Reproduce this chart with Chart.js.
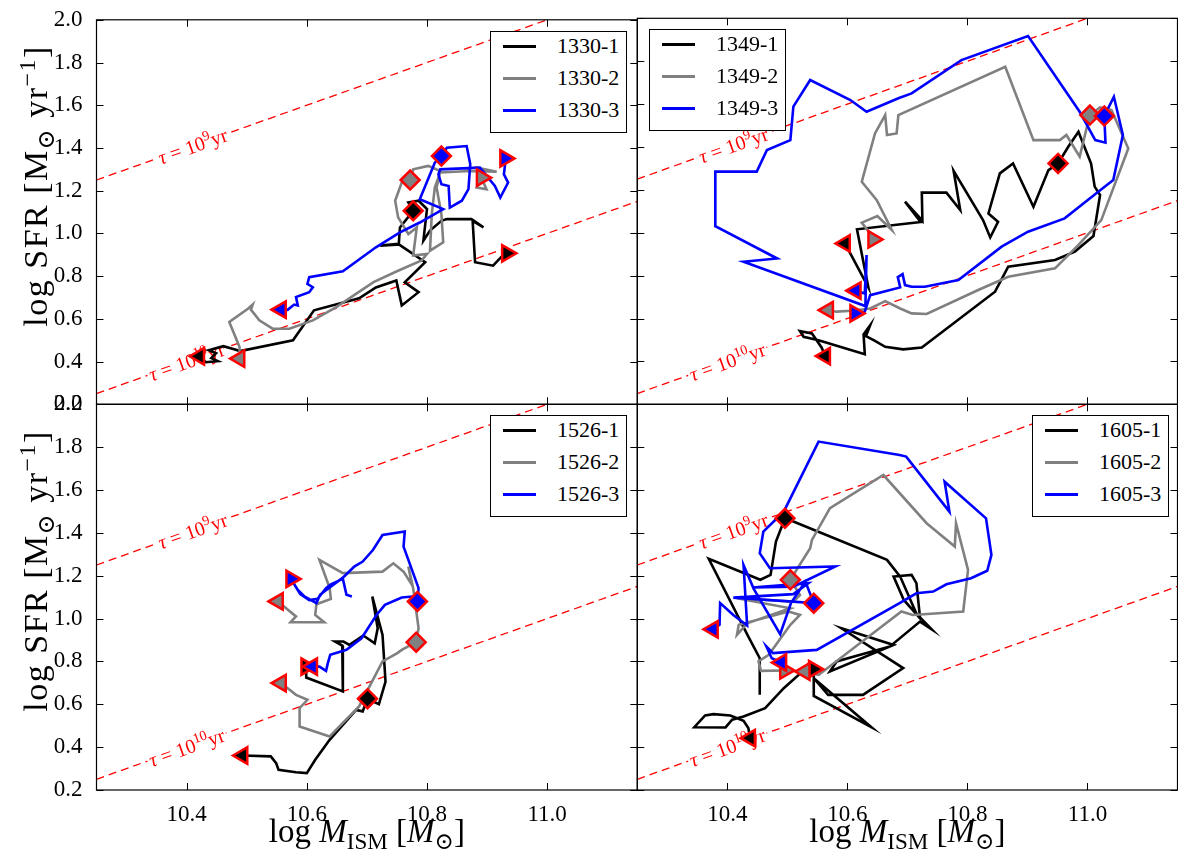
<!DOCTYPE html>
<html><head><meta charset="utf-8">
<script src="https://cdn.jsdelivr.net/npm/chart.js@4.4.1/dist/chart.umd.min.js"></script>
<style>
html,body{margin:0;padding:0;background:#fff;overflow:hidden;width:1178px;height:855px;}
canvas{position:absolute;left:0;top:0;}
.leg{position:absolute;background:#fff;border:1.5px solid #000;box-sizing:border-box;font-family:'Liberation Serif','DejaVu Serif',serif;font-size:22px;color:#000;}
.ln{position:absolute;height:3px;width:33px;}
.tx{position:absolute;line-height:22px;white-space:nowrap;}
.ttl{position:absolute;font-family:'Liberation Serif','DejaVu Serif',serif;white-space:nowrap;color:#000;}
.ttl sub{font-size:70%;vertical-align:baseline;position:relative;top:0.3em;}
.ttl sup{font-size:70%;vertical-align:baseline;position:relative;top:-0.5em;}
</style></head>
<body>
<script>
// ---------- axes ----------
const xRange = [10.25, 11.15];
const yRange = [0.2, 2.0];
const xTicks = [10.4, 10.6, 10.8, 11.0];
const yTicks = [0.2, 0.4, 0.6, 0.8, 1.0, 1.2, 1.4, 1.6, 1.8, 2.0];
const galaxies = ['1330', '1349', '1526', '1605'];
const seriesColors = ['#000000', '#808080', '#0000ff'];
// depletion-time reference lines (tau = 1e9 yr, 1e10 yr)
const tauLine9  = [[10.25, 1.25], [11.15, 2.15]];
const tauLine10 = [[10.25, 0.25], [11.15, 1.15]];
const tauExp = ['9', '10'];
const tauLabelX = [10.41, 10.40];

// ---------- tracks ----------
const t1330_1 = [[10.421,0.425],[10.432,0.397],[10.452,0.402],[10.441,0.416],[10.449,0.439],[10.437,0.453],[10.461,0.472],[10.479,0.458],[10.489,0.449],[10.577,0.500],[10.612,0.640],[10.687,0.696],[10.715,0.747],[10.749,0.780],[10.758,0.663],[10.786,0.725],[10.763,0.771],[10.797,0.865],[10.752,0.951],[10.722,0.943],[10.753,0.948],[10.755,1.028],[10.777,1.106],[10.769,1.145],[10.786,1.153],[10.800,1.114],[10.794,0.966],[10.805,1.013],[10.824,1.059],[10.833,1.067],[10.874,1.067],[10.894,1.028],[10.876,1.059],[10.880,0.865],[10.910,0.849],[10.924,0.891],[10.933,0.907]];
const t1330_2 = [[10.488,0.414],[10.488,0.468],[10.471,0.585],[10.502,0.647],[10.510,0.667],[10.507,0.643],[10.521,0.593],[10.543,0.554],[10.571,0.554],[10.610,0.593],[10.649,0.655],[10.711,0.772],[10.750,0.823],[10.791,0.873],[10.800,0.904],[10.777,0.896],[10.783,1.028],[10.769,0.997],[10.752,1.075],[10.747,1.153],[10.758,1.238],[10.772,1.250],[10.777,1.300],[10.802,1.316],[10.822,1.292],[10.816,1.215],[10.824,1.090],[10.827,0.958],[10.805,0.919],[10.808,1.090],[10.813,1.215],[10.822,1.285],[10.872,1.292],[10.916,1.289],[10.883,1.308],[10.899,1.207],[10.883,1.215],[10.891,1.261]];
const t1330_3 = [[10.557,0.643],[10.568,0.642],[10.579,0.667],[10.585,0.663],[10.582,0.702],[10.604,0.725],[10.610,0.748],[10.601,0.764],[10.604,0.795],[10.660,0.823],[10.715,0.935],[10.755,1.005],[10.788,1.051],[10.822,1.106],[10.827,1.114],[10.788,1.160],[10.813,1.331],[10.824,1.362],[10.833,1.401],[10.866,1.409],[10.872,1.324],[10.869,1.207],[10.858,1.153],[10.838,1.121],[10.836,1.222],[10.824,1.230],[10.819,1.277],[10.822,1.300],[10.888,1.308],[10.913,1.222],[10.922,1.168],[10.935,1.238],[10.928,1.277],[10.930,1.324],[10.930,1.351]];

const t1349_1 = [[10.563,0.425],[10.557,0.465],[10.541,0.530],[10.521,0.541],[10.527,0.515],[10.552,0.499],[10.629,0.434],[10.627,0.526],[10.638,0.569],[10.631,0.518],[10.646,0.496],[10.663,0.468],[10.693,0.456],[10.724,0.465],[10.846,0.725],[10.868,0.842],[10.946,0.873],[10.979,0.912],[11.010,0.985],[11.021,1.176],[11.012,1.215],[11.006,1.323],[10.985,1.471],[10.968,1.401],[10.951,1.323],[10.935,1.292],[10.910,1.121],[10.876,1.323],[10.854,1.277],[10.835,1.090],[10.851,1.051],[10.838,0.978],[10.826,1.059],[10.777,1.289],[10.788,1.106],[10.765,1.187],[10.724,1.187],[10.725,1.056],[10.696,1.145],[10.722,1.050],[10.616,1.016],[10.635,0.745],[10.596,0.950]];
const t1349_2 = [[10.568,0.639],[10.582,0.632],[10.607,0.636],[10.638,0.647],[10.663,0.681],[10.688,0.647],[10.707,0.624],[10.732,0.621],[10.818,0.733],[10.868,0.795],[10.946,0.834],[10.985,0.943],[11.023,1.059],[11.068,1.393],[11.040,1.572],[11.021,1.585],[11.004,1.549],[10.987,1.355],[10.965,1.456],[10.954,1.432],[10.910,1.432],[10.863,1.774],[10.685,1.549],[10.682,1.463],[10.666,1.456],[10.663,1.549],[10.646,1.463],[10.624,1.238],[10.649,1.152],[10.674,1.013],[10.650,1.078],[10.624,1.047],[10.638,0.997],[10.643,0.969]];
const t1349_3 = [[10.614,0.730],[10.629,0.717],[10.632,0.896],[10.630,0.658],[10.427,0.865],[10.483,0.880],[10.380,1.031],[10.380,1.285],[10.449,1.285],[10.466,1.386],[10.505,1.432],[10.510,1.588],[10.538,1.712],[10.605,1.619],[10.632,1.564],[10.685,1.627],[10.707,1.650],[10.790,1.805],[10.901,1.917],[10.987,1.564],[11.013,1.432],[11.030,1.420],[11.028,1.544],[11.044,1.634],[11.059,1.456],[11.043,1.246],[11.018,1.191],[10.962,1.067],[10.901,1.005],[10.857,0.935],[10.785,0.779],[10.729,0.748],[10.707,0.748],[10.696,0.756],[10.692,0.807],[10.684,0.793],[10.688,0.745],[10.638,0.709],[10.629,0.632],[10.613,0.624]];

const t1526_1 = [[10.493,0.361],[10.540,0.357],[10.549,0.325],[10.553,0.294],[10.582,0.283],[10.600,0.279],[10.614,0.341],[10.638,0.434],[10.682,0.574],[10.693,0.567],[10.701,0.626],[10.720,0.601],[10.731,0.706],[10.726,0.924],[10.709,1.103],[10.718,0.955],[10.713,0.885],[10.694,0.921],[10.671,0.877],[10.661,0.893],[10.647,0.893],[10.659,0.874],[10.660,0.660],[10.599,0.725],[10.599,0.776]];
const t1526_2 = [[10.552,1.080],[10.582,1.010],[10.573,0.983],[10.629,0.983],[10.614,1.017],[10.616,1.067],[10.640,1.092],[10.638,1.142],[10.621,1.274],[10.660,1.212],[10.726,1.219],[10.744,1.258],[10.761,1.219],[10.775,1.157],[10.769,1.243],[10.777,1.142],[10.786,0.955],[10.782,0.890],[10.758,0.854],[10.750,0.838],[10.726,0.800],[10.687,0.590],[10.638,0.450],[10.588,0.496],[10.588,0.582],[10.601,0.621],[10.582,0.644],[10.557,0.699]];
const t1526_3 = [[10.675,1.103],[10.666,1.111],[10.660,1.185],[10.640,1.160],[10.632,1.142],[10.618,1.092],[10.604,1.086],[10.589,1.114],[10.575,1.179],[10.585,1.134],[10.596,1.103],[10.616,1.072],[10.622,1.111],[10.638,1.145],[10.660,1.191],[10.679,1.243],[10.693,1.266],[10.710,1.320],[10.726,1.390],[10.763,1.406],[10.761,1.336],[10.786,1.142],[10.784,1.080],[10.775,1.103],[10.758,1.098],[10.730,1.064],[10.716,1.017],[10.691,0.908],[10.666,0.854],[10.639,0.831],[10.635,0.792],[10.632,0.756],[10.621,0.776],[10.609,0.776]];

const t1605_1 = [[10.438,0.442],[10.435,0.489],[10.427,0.523],[10.405,0.548],[10.377,0.554],[10.363,0.548],[10.345,0.493],[10.397,0.492],[10.408,0.528],[10.427,0.543],[10.463,0.582],[10.494,0.675],[10.524,0.750],[10.544,0.764],[10.544,0.639],[10.640,0.493],[10.544,0.722],[10.568,0.644],[10.626,0.644],[10.693,0.769],[10.590,0.955],[10.677,0.877],[10.571,0.753],[10.582,0.800],[10.671,0.870],[10.721,0.986],[10.740,0.951],[10.721,1.005],[10.715,1.165],[10.707,1.204],[10.677,1.196],[10.694,1.087],[10.716,1.017],[10.688,1.196],[10.666,1.274],[10.510,1.453],[10.496,1.468],[10.481,1.359],[10.472,1.204],[10.455,1.181],[10.369,1.279],[10.435,0.916],[10.454,0.815],[10.454,0.644]];
const t1605_2 = [[10.496,0.758],[10.456,0.756],[10.452,0.800],[10.469,0.831],[10.505,0.971],[10.521,1.017],[10.502,1.033],[10.419,0.971],[10.416,0.924],[10.433,0.978],[10.505,1.048],[10.416,1.095],[10.510,1.079],[10.521,1.110],[10.505,1.181],[10.538,1.328],[10.541,1.367],[10.571,1.515],[10.660,1.670],[10.732,1.445],[10.779,1.336],[10.781,1.445],[10.801,1.227],[10.793,1.033],[10.709,1.017],[10.690,1.033],[10.552,0.737],[10.529,0.753]];
const t1605_3 = [[10.376,0.950],[10.387,0.971],[10.388,1.072],[10.410,1.017],[10.433,0.968],[10.427,1.250],[10.444,1.139],[10.488,0.927],[10.506,1.072],[10.530,1.173],[10.544,1.072],[10.410,1.098],[10.510,1.114],[10.535,1.165],[10.441,1.145],[10.510,1.149],[10.580,1.243],[10.471,1.235],[10.454,1.305],[10.460,1.406],[10.494,1.499],[10.552,1.826],[10.687,1.763],[10.698,1.756],[10.770,1.499],[10.762,1.639],[10.831,1.468],[10.840,1.297],[10.833,1.223],[10.806,1.188],[10.765,1.160],[10.743,1.126],[10.715,1.118],[10.687,1.072],[10.549,0.854],[10.476,0.839],[10.465,0.870],[10.474,0.815],[10.490,0.795]];

// ---------- markers: [series, shape, x, y] ----------
const mk1330 = [[0,'<',10.421,0.425],[0,'D',10.777,1.106],[0,'>',10.933,0.907],[1,'<',10.488,0.414],[1,'D',10.772,1.250],[1,'>',10.891,1.261],[2,'<',10.557,0.643],[2,'D',10.824,1.362],[2,'>',10.930,1.351]];
const mk1349 = [[0,'<',10.563,0.425],[0,'<',10.596,0.950],[0,'D',10.951,1.323],[1,'<',10.568,0.639],[1,'>',10.643,0.969],[1,'D',11.004,1.549],[2,'<',10.614,0.730],[2,'>',10.613,0.624],[2,'D',11.028,1.544]];
const mk1526 = [[0,'<',10.493,0.361],[0,'>',10.599,0.776],[0,'D',10.701,0.626],[1,'<',10.552,1.080],[1,'<',10.557,0.699],[1,'D',10.782,0.890],[2,'>',10.574,1.185],[2,'<',10.609,0.776],[2,'D',10.784,1.080]];
const mk1605 = [[0,'<',10.438,0.442],[0,'>',10.544,0.764],[0,'D',10.496,1.468],[1,'>',10.496,0.758],[1,'<',10.529,0.753],[1,'D',10.505,1.181],[2,'<',10.376,0.950],[2,'<',10.490,0.795],[2,'D',10.544,1.072]];

// ---------- layout ----------
const W = 1178, H = 855;
const panels = [
  {tracks:[t1330_1,t1330_2,t1330_3], marks:mk1330, area:[96.5,18.3,637.3,404.3], yLab:true,  xLab:false, leg:['right',10]},
  {tracks:[t1349_1,t1349_2,t1349_3], marks:mk1349, area:[637.3,18.3,1177.5,404.3], yLab:false, xLab:false, leg:['left',11.4]},
  {tracks:[t1526_1,t1526_2,t1526_3], marks:mk1526, area:[96.5,404.3,637.3,790], yLab:true,  xLab:true,  leg:['right',10]},
  {tracks:[t1605_1,t1605_2,t1605_3], marks:mk1605, area:[637.3,404.3,1177.5,790], yLab:false, xLab:true,  leg:['right',8]}
];
const FONT = "'Liberation Serif', 'DejaVu Serif', serif";
Chart.defaults.font.family = FONT;
Chart.defaults.color = '#000';

function pts(a){ return a.map(p => ({x:p[0], y:p[1]})); }

function drawTau(ctx, cx, cy, ang, expo){
  const fs = 20;
  const parts = [
    {t:'τ', f:'italic ' + fs + 'px ' + FONT, dy:0},
    {t:' = 10', f:fs + 'px ' + FONT, dy:0},
    {t:expo, f:Math.round(fs*0.7) + 'px ' + FONT, dy:-fs*0.4},
    {t:'yr', f:fs + 'px ' + FONT, dy:0}];
  ctx.save();
  ctx.translate(cx, cy); ctx.rotate(ang);
  let w = 0;
  parts.forEach(p => { ctx.font = p.f; p.w = ctx.measureText(p.t).width; w += p.w; });
  ctx.fillStyle = '#fff';
  ctx.fillRect(-w/2 - 2, -fs*0.6, w + 4, fs*1.15);
  ctx.fillStyle = '#ff0000';
  ctx.textBaseline = 'alphabetic';
  let x = -w/2;
  parts.forEach(p => { ctx.font = p.f; ctx.fillText(p.t, x, fs*0.36 + p.dy); x += p.w; });
  ctx.restore();
}

const framePlugin = {
  id:'frame',
  afterDatasetDraw(chart, args){
    const ds = chart.data.datasets[args.index];
    if (ds.tauIdx === undefined) return;
    const xs = chart.scales.x, ys = chart.scales.y;
    const ln = ds.data;
    const xl = tauLabelX[ds.tauIdx];
    const yl = ln[0].y + (xl - ln[0].x) * (ln[1].y - ln[0].y) / (ln[1].x - ln[0].x);
    const ang = Math.atan2(ys.getPixelForValue(ln[1].y) - ys.getPixelForValue(ln[0].y),
                           xs.getPixelForValue(ln[1].x) - xs.getPixelForValue(ln[0].x));
    const ctx = chart.ctx;
    ctx.save();
    const a = chart.chartArea;
    ctx.beginPath(); ctx.rect(a.left, a.top, a.right - a.left, a.bottom - a.top); ctx.clip();
    drawTau(ctx, xs.getPixelForValue(xl), ys.getPixelForValue(yl), ang, tauExp[ds.tauIdx]);
    ctx.restore();
  },
  afterDraw(chart){
    const {ctx, chartArea:a, scales:{x, y}} = chart;
    ctx.save();
    ctx.strokeStyle = '#000'; ctx.lineWidth = 1;
    ctx.beginPath();
    x.ticks.forEach(t => { const p = Math.round(x.getPixelForValue(t.value)) + 0.5;
      ctx.moveTo(p, a.bottom); ctx.lineTo(p, a.bottom - 7); ctx.moveTo(p, a.top); ctx.lineTo(p, a.top + 7); });
    y.ticks.forEach(t => { const p = Math.round(y.getPixelForValue(t.value)) + 0.5;
      ctx.moveTo(a.left, p); ctx.lineTo(a.left + 7, p); ctx.moveTo(a.right, p); ctx.lineTo(a.right - 7, p); });
    ctx.stroke();
    ctx.lineWidth = 1.2;
    ctx.strokeRect(a.left, a.top, a.right - a.left, a.bottom - a.top);
    ctx.restore();
  }
};

const charts = [];
panels.forEach((pd, pi) => {
  const cv = document.createElement('canvas');
  cv.width = W; cv.height = H; cv.style.width = W + 'px'; cv.style.height = H + 'px';
  document.body.appendChild(cv);
  const [L, T, R, B] = pd.area;
  const yw = pd.yLab ? L : 0;
  const xh = pd.xLab ? 40 : 0;
  const datasets = [];
  [tauLine9, tauLine10].forEach((ln, i) => datasets.push({
    data: pts(ln), showLine:true, borderColor:'#ff0000', borderWidth:1.3, borderDash:[8,5],
    pointRadius:0, order:20, tauIdx:i }));
  pd.tracks.forEach((tr, k) => datasets.push({
    label: galaxies[pi] + '-' + (k + 1), data: pts(tr), showLine:true,
    borderColor: seriesColors[k], borderWidth:2.6, pointRadius:0, tension:0, order:10 - k }));
  [0, 1, 2].forEach(k => datasets.push({
    data: pd.marks.filter(m => m[0] === k).map(m => ({x:m[2], y:m[3], s:m[1]})),
    showLine:false,
    pointStyle: c => (c.raw && c.raw.s === 'D') ? 'rectRot' : 'triangle',
    pointRotation: c => !c.raw ? 0 : (c.raw.s === '<' ? -90 : (c.raw.s === '>' ? 90 : 0)),
    pointRadius: c => (c.raw && c.raw.s === 'D') ? 9.5 : 9.5,
    pointBackgroundColor: seriesColors[k], pointBorderColor:'#ff0000', pointBorderWidth:2.5,
    order: 3 - k }));
  const chart = new Chart(cv, {
    type:'scatter',
    data:{datasets},
    options:{
      responsive:false, animation:false, events:[], devicePixelRatio:1,
      layout:{autoPadding:false, padding:{left:L - yw, top:T, right:W - R, bottom:H - B - xh}},
      plugins:{legend:{display:false}, tooltip:{enabled:false}},
      scales:{
        x:{type:'linear', position:'bottom', min:xRange[0], max:xRange[1],
           grid:{display:false}, border:{display:false},
           afterBuildTicks: s => { s.ticks = xTicks.map(v => ({value:v})); },
           afterFit: s => { s.height = xh; },
           ticks:{display:pd.xLab, padding:3, font:{size:23, family:FONT}, color:'#000',
                  callback: v => Number(v).toFixed(1)}},
        y:{type:'linear', position:'left', min:yRange[0], max:yRange[1],
           grid:{display:false}, border:{display:false},
           afterBuildTicks: s => { s.ticks = yTicks.map(v => ({value:v})); },
           afterFit: s => { s.width = yw; },
           ticks:{display:pd.yLab, padding:6, font:{size:23, family:FONT}, color:'#000',
                  callback: v => Number(v).toFixed(1)}}
      }
    },
    plugins:[framePlugin]
  });
  charts.push(chart);
});

// ---------- legends and axis titles (HTML text) ----------
charts.forEach((ch, pi) => {
  const a = ch.chartArea, pd = panels[pi];
  const bw = 137.3, bh = 102.4;
  const box = document.createElement('div');
  box.className = 'leg';
  const left = Math.round(pd.leg[0] === 'right' ? a.right - pd.leg[1] - bw : a.left + pd.leg[1]);
  const top = Math.round(a.top + 11);
  box.style.left = left + 'px'; box.style.top = top + 'px';
  box.style.width = bw + 'px'; box.style.height = bh + 'px';
  const rowY = [15.7, 48.4, 79.7];
  ch.data.datasets.filter(d => d.label).forEach((d, k) => {
    const ln = document.createElement('div');
    ln.className = 'ln'; ln.style.background = d.borderColor;
    ln.style.left = '12px'; ln.style.top = Math.round(rowY[k] - 3) + 'px';
    box.appendChild(ln);
    const tx = document.createElement('div');
    tx.className = 'tx'; tx.textContent = d.label;
    tx.style.left = '66px'; tx.style.top = Math.round(rowY[k] - 11 - 2) + 'px';
    box.appendChild(tx);
  });
  document.body.appendChild(box);
  if (pd.xLab) {
    const t = document.createElement('div');
    t.className = 'ttl';
    t.style.fontSize = '33px'; t.style.lineHeight = '33px';
    t.innerHTML = 'log <i>M</i><sub>ISM</sub> [<i>M</i><sub>⊙</sub>]';
    t.style.left = ((a.left + a.right) / 2) + 'px'; t.style.top = '815px';
    t.style.transform = 'translateX(-50%)';
    document.body.appendChild(t);
  }
  if (pd.yLab) {
    const t = document.createElement('div');
    t.className = 'ttl';
    t.style.fontSize = '34px'; t.style.lineHeight = '34px'; t.style.letterSpacing = '1.5px';
    t.innerHTML = 'log SFR [M<sub>⊙</sub> yr<sup>−1</sup>]';
    t.style.left = '37px'; t.style.top = ((a.top + a.bottom) / 2 - 26) + 'px';
    t.style.transform = 'translate(-50%,-50%) rotate(-90deg)';
    document.body.appendChild(t);
  }
});
</script>
</body></html>
